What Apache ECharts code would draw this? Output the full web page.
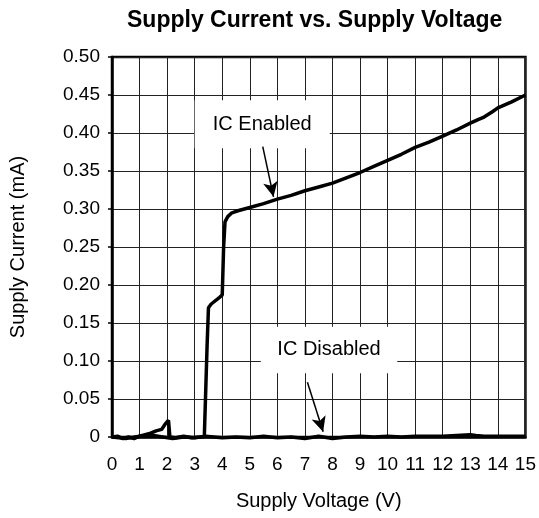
<!DOCTYPE html>
<html>
<head>
<meta charset="utf-8">
<script src="https://cdn.jsdelivr.net/npm/echarts@6/dist/echarts.min.js"></script>
<style>
  html, body { margin: 0; padding: 0; background: #fff; }
  #chart { width: 539px; height: 518px; }
</style>
</head>
<body>
<div id="chart"></div>
<script>
// supply voltage (V) / supply current (mA)
var enabledV = [0, 0.2, 0.4, 0.6, 0.8, 1.0, 1.2, 1.4, 1.6, 1.8, 1.95, 2.05, 2.1, 2.3, 2.6, 2.9, 3.2, 3.35, 3.45, 3.5, 3.6, 3.88, 4.0, 4.05, 4.1, 4.2, 4.35, 4.6, 5.0, 5.5, 6.0, 6.5, 7.0, 7.5, 8.0, 8.5, 9.0, 9.5, 10.0, 10.5, 11.0, 11.5, 12.0, 12.5, 13.0, 13.3, 13.5, 13.8, 14.0, 14.5, 15.0];
var enabledI = [0, 0.001, -0.002, 0, -0.002, 0.001, 0.003, 0.005, 0.008, 0.010, 0.018, 0.022, 0, -0.001, 0.001, -0.001, 0, 0.001, 0.12, 0.170, 0.175, 0.183, 0.187, 0.25, 0.283, 0.290, 0.295, 0.298, 0.302, 0.307, 0.313, 0.318, 0.324, 0.329, 0.334, 0.341, 0.348, 0.356, 0.364, 0.372, 0.381, 0.388, 0.396, 0.404, 0.413, 0.418, 0.421, 0.428, 0.433, 0.441, 0.450];

var disabledV = [0, 0.5, 1.0, 1.5, 2.2, 2.6, 3.0, 3.4, 4.0, 4.5, 5.0, 5.5, 6.0, 6.5, 7.0, 7.5, 8.0, 8.5, 9.0, 9.5, 10.0, 10.5, 11.0, 11.5, 12.0, 12.5, 13.0, 13.2, 13.5, 14.0, 15.0];
var disabledI = [0, -0.002, 0.001, 0.002, -0.002, 0, -0.001, 0.001, -0.001, 0, -0.001, 0.001, -0.001, 0, -0.002, 0.001, -0.002, 0, 0.001, 0, 0.001, 0, 0.001, 0.001, 0.001, 0.002, 0.003, 0.002, 0.001, 0.001, 0.001];

var chart = echarts.init(document.getElementById('chart'));

function pairs(xs, ys) {
  var out = [];
  for (var i = 0; i < xs.length; i++) out.push([xs[i], ys[i]]);
  return out;
}

var font = 'Arial, "Liberation Sans", sans-serif';

var option = {
  animation: false,
  backgroundColor: '#fff',
  textStyle: { fontFamily: font, color: '#000' },
  title: {
    text: 'Supply Current vs. Supply Voltage',
    left: 122,
    top: 4,
    textStyle: { fontFamily: font, fontSize: 23, fontWeight: 'bold', color: '#000' }
  },
  grid: {
    left: 110, right: 12, top: 57, bottom: 81,
    show: true, borderColor: '#000', borderWidth: 2.5, backgroundColor: 'transparent'
  },
  xAxis: {
    type: 'value',
    min: 0, max: 15, interval: 1,
    name: 'Supply Voltage (V)',
    nameLocation: 'middle',
    nameGap: 54,
    nameTextStyle: { fontFamily: font, fontSize: 20, color: '#000' },
    axisLine: { show: true, lineStyle: { color: '#000', width: 2.5 } },
    axisTick: { show: false },
    axisLabel: { fontFamily: font, fontSize: 19, color: '#000', margin: 18 },
    splitLine: { show: true, lineStyle: { color: '#222', width: 1 } }
  },
  yAxis: {
    type: 'value',
    min: 0, max: 0.5, interval: 0.05,
    name: 'Supply Current (mA)',
    nameLocation: 'middle',
    nameGap: 84,
    nameTextStyle: { fontFamily: font, fontSize: 20, color: '#000' },
    axisLine: { show: true, lineStyle: { color: '#000', width: 2.5 } },
    axisTick: { show: true, length: 4, lineStyle: { color: '#000', width: 1.5 } },
    axisLabel: {
      fontFamily: font, fontSize: 19, color: '#000', margin: 12,
      formatter: function (v) { return v === 0 ? '0' : v.toFixed(2); }
    },
    splitLine: { show: true, lineStyle: { color: '#222', width: 1 } }
  },
  series: [
    {
      name: 'IC Disabled',
      type: 'line',
      data: pairs(disabledV, disabledI),
      showSymbol: false,
      clip: false,
      lineStyle: { color: '#000', width: 3.5 },
      z: 3,
      markArea: {
        silent: true,
        itemStyle: { color: '#fff' },
        label: { show: true, position: 'inside', fontFamily: font, fontSize: 20, color: '#000' },
        data: [
          [{ name: 'IC Enabled', coord: [3, 0.443] }, { coord: [7.9, 0.38] }],
          [{ name: 'IC Disabled', coord: [5.4, 0.145] }, { coord: [10.35, 0.084] }]
        ]
      },
      markLine: {
        silent: true,
        symbol: ['none', 'arrow'],
        symbolSize: [11, 15],
        label: { show: false },
        lineStyle: { color: '#000', width: 1.5, type: 'solid' },
        data: [
          [{ coord: [5.47, 0.382] }, { coord: [5.86, 0.316] }],
          [{ coord: [7.09, 0.072] }, { coord: [7.66, 0.007] }]
        ]
      }
    },
    {
      name: 'IC Enabled',
      type: 'line',
      data: pairs(enabledV, enabledI),
      showSymbol: false,
      clip: false,
      lineStyle: { color: '#000', width: 3.5 },
      z: 4
    }
  ]
};

chart.setOption(option);
</script>
</body>
</html>
